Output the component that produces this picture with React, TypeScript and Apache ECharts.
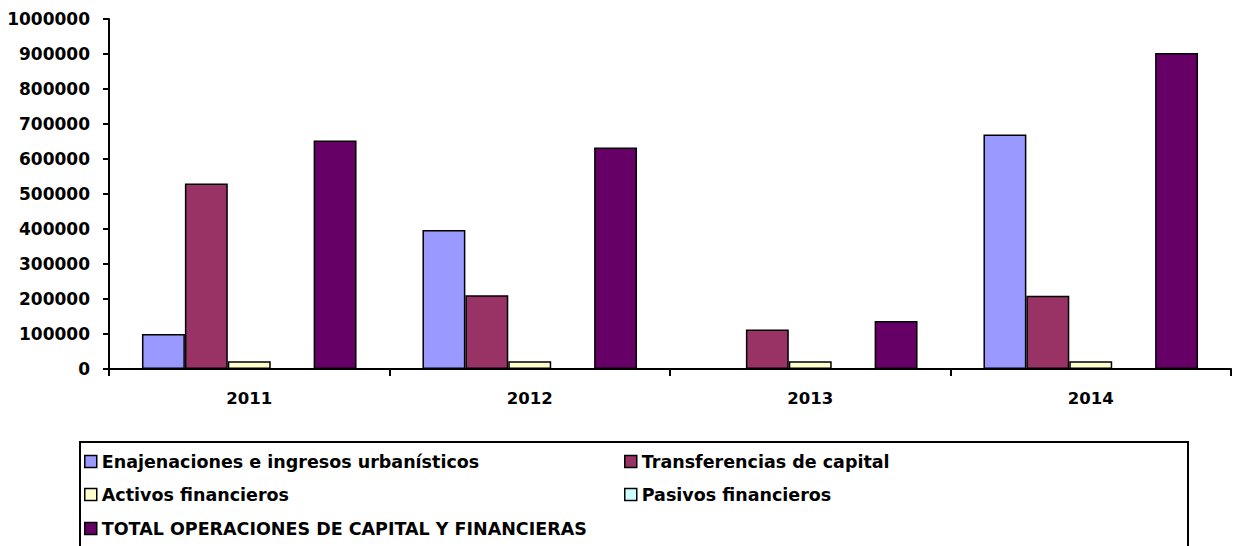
import React, { useEffect, useRef } from "react";
import * as echarts from "echarts";

const categories = ["2011", "2012", "2013", "2014"];
const seriesNames = [
  "Enajenaciones e ingresos urbanísticos",
  "Transferencias de capital",
  "Activos financieros",
  "Pasivos financieros",
  "TOTAL OPERACIONES DE CAPITAL Y FINANCIERAS",
];
const enajenaciones = [100000, 397000, 0, 670000];
const transferencias = [530000, 211000, 113000, 209000];
const activos = [22000, 22000, 22000, 22000];
const pasivos = [0, 0, 0, 0];
const total = [653000, 633000, 137000, 903000];
const colors = ["#9999FF", "#993366", "#FFFFCC", "#CCFFFF", "#660066"];
const yTicks = [0, 100000, 200000, 300000, 400000, 500000, 600000, 700000, 800000, 900000, 1000000];

const FONT = "DejaVu Sans";

const legendPos = [
  { left: 84, top: 452 },
  { left: 624, top: 452 },
  { left: 84, top: 485 },
  { left: 624, top: 485 },
  { left: 84, top: 519 },
];

export default function App() {
  const ref = useRef<HTMLDivElement>(null);
  useEffect(() => {
    if (!ref.current) return;
    const chart = echarts.init(ref.current, undefined, { renderer: "svg" });
    const values = [enajenaciones, transferencias, activos, pasivos, total];
    chart.setOption({
      animation: false,
      backgroundColor: "#ffffff",
      grid: { left: 109, right: 3, top: 19, bottom: 177, containLabel: false },
      xAxis: {
        type: "category",
        data: categories,
        axisLine: { show: true, lineStyle: { color: "#000", width: 2 } },
        axisTick: { show: true, length: 7, inside: false, lineStyle: { color: "#000", width: 2 } },
        axisLabel: { color: "#000", fontFamily: FONT, fontWeight: "bold", fontSize: 16.5, margin: 21 },
        splitLine: { show: false },
      },
      yAxis: {
        type: "value",
        min: yTicks[0],
        max: yTicks[yTicks.length - 1],
        interval: 100000,
        axisLine: { show: true, lineStyle: { color: "#000", width: 2 } },
        axisTick: { show: true, length: 6, lineStyle: { color: "#000", width: 2 } },
        axisLabel: {
          color: "#000",
          fontFamily: FONT,
          fontWeight: "bold",
          fontSize: 17,
          margin: 19,
          formatter: (v: number) => String(v),
        },
        splitLine: { show: false },
      },
      legend: seriesNames.map((name, i) => ({
        orient: "horizontal",
        left: legendPos[i].left,
        top: legendPos[i].top,
        padding: 0,
        data: [name],
        icon: "rect",
        itemWidth: 12,
        itemHeight: 12,
        itemStyle: { borderColor: "#000", borderWidth: 1.5 },
        textStyle: { color: "#000", fontFamily: FONT, fontWeight: "bold", fontSize: 17.5, lineHeight: 19 },
      })),
      graphic: [
        {
          type: "rect",
          shape: { x: 80, y: 442, width: 1108, height: 130 },
          style: { fill: "none", stroke: "#000", lineWidth: 2 },
          silent: true,
        },
      ],
      series: seriesNames.map((name, i) => ({
        name,
        type: "bar",
        data: values[i],
        barGap: "0%",
        barCategoryGap: "23.5%",
        itemStyle: { color: colors[i], borderColor: "#000", borderWidth: 1.5 },
      })),
    });
    return () => chart.dispose();
  }, []);
  return <div ref={ref} style={{ position: "fixed", left: 0, top: 0, width: 1234, height: 546 }} />;
}
